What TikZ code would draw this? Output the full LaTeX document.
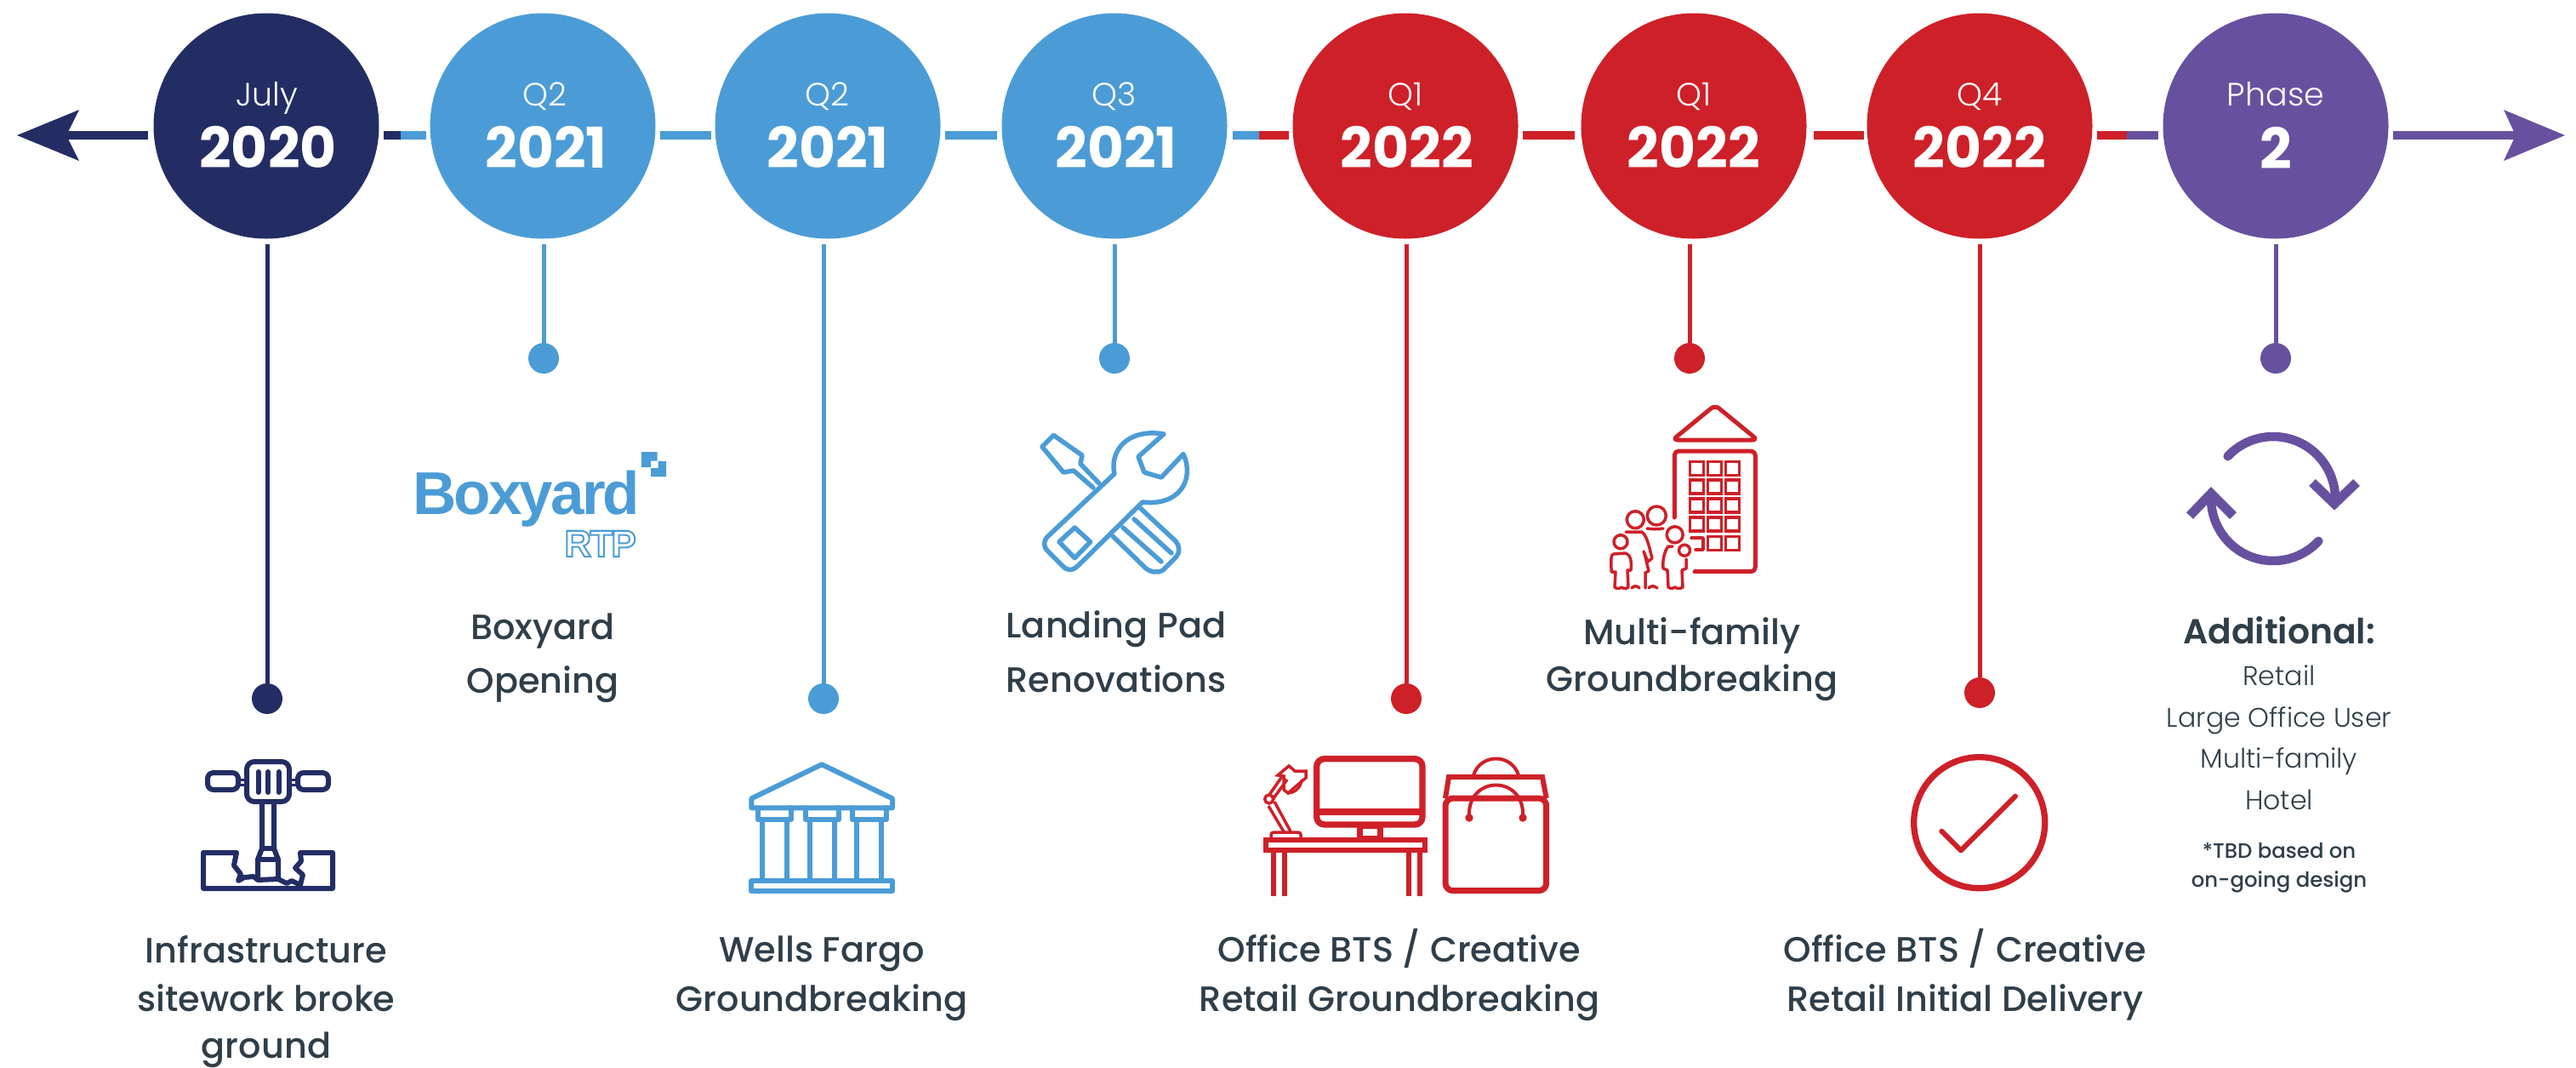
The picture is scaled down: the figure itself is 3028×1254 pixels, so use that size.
\documentclass[tikz,border=0pt]{standalone}
\usepackage{fontspec}
\setmainfont{Poppins}
\newfontfamily\plight{Poppins Light}
\newfontfamily\pmed{Poppins Medium}
\newfontfamily\psemi{Poppins SemiBold}
\newfontfamily\pbold{Poppins Bold}
\newfontfamily\logofont[LetterSpace=-4]{Liberation Sans Bold}
\definecolor{navy}{HTML}{232D64}
\definecolor{skyb}{HTML}{4B9CD6}
\definecolor{redd}{HTML}{CE2028}
\definecolor{purp}{HTML}{67519F}
\definecolor{ink}{HTML}{2F3E48}
\tikzset{
  disc/.style={circle,fill=#1,minimum size=265pt,inner sep=0pt,outer sep=6pt},
  dotend/.style={circle,fill=#1,minimum size=36pt,inner sep=0pt,outer sep=0pt},
  stem/.style={draw=#1,line width=5pt},
  seg/.style={draw=#1,line width=10pt},
  small/.style={text=white,anchor=base,inner sep=0pt,font=\plight\fontsize{38}{38}\selectfont},
  year/.style={text=white,anchor=base,inner sep=0pt,font=\pbold\fontsize{66}{66}\selectfont},
  lab/.style={text=ink,anchor=base,inner sep=0pt,font=\pmed\fontsize{41.4}{41.4}\selectfont},
  lst/.style={text=ink,anchor=base,inner sep=0pt,font=\plight\fontsize{31.6}{31.6}\selectfont},
  icon/.style={draw=#1,line width=6pt,line join=round,line cap=round},
  thin/.style={draw=#1,line width=3.5pt,line join=round,line cap=round},
}
\begin{document}
\begin{tikzpicture}[x=1pt,y=-1pt]
\useasboundingbox (0,0) rectangle (3028,1254);
% timeline discs
\node[disc=navy] (c1) at (313,148) {};
\node[disc=skyb] (c2) at (638,148) {};
\node[disc=skyb] (c3) at (973,148) {};
\node[disc=skyb] (c4) at (1310,148) {};
\node[disc=redd] (c5) at (1652,148) {};
\node[disc=redd] (c6) at (1991,148) {};
\node[disc=redd] (c7) at (2327,148) {};
\node[disc=purp] (c8) at (2675,148) {};
% disc texts
\node[small] (t1) at (314,124) {July};
\node[year] (y1) at (315,197) {2020};
\node[small] (t2) at (640,124) {Q2};
\node[year] (y2) at (642,197) {2021};
\node[small] (t3) at (972,124) {Q2};
\node[year] (y3) at (973,197) {2021};
\node[small] (t4) at (1310,124) {Q3};
\node[year] (y4) at (1312,197) {2021};
\node[small] (t5) at (1652,124) {Q1};
\node[year] (y5) at (1654,197) {2022};
\node[small] (t6) at (1991,124) {Q1};
\node[year] (y6) at (1991,197) {2022};
\node[small] (t7) at (2327,124) {Q4};
\node[year] (y7) at (2327,197) {2022};
\node[small] (t8) at (2675,124) {Phase};
\node[year] (y8) at (2675,198) {2};
% timeline segments
\coordinate (lt) at (174,159);
\coordinate (ltip) at (70,159);
\coordinate (a12) at (451,159); \coordinate (m12) at (471,159); \coordinate (b12) at (501,159);
\coordinate (a23) at (776,159); \coordinate (b23) at (836,159);
\coordinate (a34) at (1111,159); \coordinate (b34) at (1172,159);
\coordinate (a45) at (1449,159); \coordinate (m45) at (1480,159); \coordinate (b45) at (1515,159);
\coordinate (a56) at (1790,159); \coordinate (b56) at (1851,159);
\coordinate (a67) at (2132,159); \coordinate (b67) at (2191,159);
\coordinate (a78) at (2465,159); \coordinate (m78) at (2500,159); \coordinate (b78) at (2537,159);
\coordinate (rt) at (2813,159);
\coordinate (rtip) at (2970,159);
\draw[seg=navy] (lt) -- (ltip);
\fill[navy] (20,159) -- (93,129) -- (78,159) -- (93,189) -- cycle;
\draw[seg=navy] (a12) -- (m12);
\draw[seg=skyb] (m12) -- (b12);
\draw[seg=skyb] (a23) -- (b23);
\draw[seg=skyb] (a34) -- (b34);
\draw[seg=skyb] (a45) -- (m45);
\draw[seg=redd] (m45) -- (b45);
\draw[seg=redd] (a56) -- (b56);
\draw[seg=redd] (a67) -- (b67);
\draw[seg=redd] (a78) -- (m78);
\draw[seg=purp] (m78) -- (b78);
\draw[seg=purp] (rt) -- (rtip);
\fill[purp] (3015,159) -- (2943,129) -- (2957,159) -- (2943,189) -- cycle;
% stems and dots
\node[dotend=navy] (d1) at (314,821) {};
\node[dotend=skyb] (d2) at (639,421) {};
\node[dotend=skyb] (d3) at (968,821) {};
\node[dotend=skyb] (d4) at (1310,421) {};
\node[dotend=redd] (d5) at (1653,821) {};
\node[dotend=redd] (d6) at (1986,421) {};
\node[dotend=redd] (d7) at (2327,814) {};
\node[dotend=purp] (d8) at (2675,421) {};
\coordinate (s1) at (314,287); \coordinate (s2) at (639,287); \coordinate (s3) at (968,287);
\coordinate (s4) at (1310,287); \coordinate (s5) at (1653,287); \coordinate (s6) at (1986,287);
\coordinate (s7) at (2327,287); \coordinate (s8) at (2675,287);
\draw[stem=navy] (s1) -- (d1);
\draw[stem=skyb] (s2) -- (d2);
\draw[stem=skyb] (s3) -- (d3);
\draw[stem=skyb] (s4) -- (d4);
\draw[stem=redd] (s5) -- (d5);
\draw[stem=redd] (s6) -- (d6);
\draw[stem=redd] (s7) -- (d7);
\draw[stem=purp] (s8) -- (d8);
% labels
\node[lab] (l1a) at (313,1131) {Infrastructure};
\node[lab] (l1b) at (313,1188) {sitework broke};
\node[lab] (l1c) at (313,1243) {ground};
\node[lab] (l2a) at (638,751) {Boxyard};
\node[lab] (l2b) at (638,814) {Opening};
\node[lab] (l3a) at (966,1130) {Wells Fargo};
\node[lab] (l3b) at (966,1188) {Groundbreaking};
\node[lab] (l4a) at (1312,749) {Landing Pad};
\node[lab] (l4b) at (1312,813) {Renovations};
\node[lab] (l5a) at (1645,1130) {Office BTS / Creative};
\node[lab] (l5b) at (1645,1188) {Retail Groundbreaking};
\node[lab] (l6a) at (1989,757) {Multi-family};
\node[lab] (l6b) at (1989,812) {Groundbreaking};
\node[lab] (l7a) at (2310,1130) {Office BTS / Creative};
\node[lab] (l7b) at (2310,1188) {Retail Initial Delivery};
\node[lab,font=\psemi\fontsize{40.8}{40.8}\selectfont] (l8a) at (2679,756) {Additional:};
\node[lst] (l8b) at (2679,805) {Retail};
\node[lst] (l8c) at (2679,854) {Large Office User};
\node[lst] (l8d) at (2679,902) {Multi-family};
\node[lst] (l8e) at (2679,951) {Hotel};
\node[lab,font=\pmed\fontsize{24.4}{24.4}\selectfont] (l8f) at (2679,1008) {*TBD based on};
\node[lab,font=\pmed\fontsize{24.4}{24.4}\selectfont] (l8g) at (2679,1042) {on-going design};
% jackhammer
\begin{scope}[icon=navy]
\draw[rounded corners=9pt] (290,895) rectangle (340,942);
\draw (303.5,907) -- (303.5,931) (315,907) -- (315,931) (327.5,907) -- (327.5,931);
\draw[rounded corners=7pt] (244,908) rectangle (280,928);
\draw[rounded corners=7pt] (350,908) rectangle (386,928);
\draw[line width=3pt] (280,916) -- (290,916) (280,922) -- (290,922) (340,916) -- (350,916) (340,922) -- (350,922);
\draw (308,945) -- (308,997) -- (303,1010) -- (303,1032);
\draw (322,945) -- (322,997) -- (327,1010) -- (327,1032);
\draw (308,997) -- (322,997) (303,1010) -- (327,1010);
\draw (278,1002) -- (239,1002) -- (239,1044) -- (391,1044) -- (391,1002) -- (353,1002) -- (354,1012) -- (347,1020) -- (356,1028) -- (353,1040) -- (343,1035) -- (337,1038) -- (327,1033) -- (303,1034) -- (298,1030) -- (287,1031) -- (280,1035) -- (283,1027) -- (275,1017) -- (278,1002);
\end{scope}
% boxyard logo
\node[text=skyb,anchor=base west,inner sep=0pt,font=\logofont\fontsize{71}{71}\selectfont] (logo) at (485,604) {Boxyard};
\node[anchor=base east,inner sep=0pt,font=\logofont\fontsize{44}{44}\selectfont] (rtp) at (748,654) {\special{pdf:code q 1 Tr 2 w 0.294 0.612 0.839 RG 1 1 1 rg}RTP\special{pdf:code Q}};
\fill[skyb] (754,531) -- (772.7,531) -- (772.7,541.5) -- (765,541.5) -- (765,549) -- (754,549) -- cycle;
\fill[skyb] (773.5,542) -- (783,542) -- (783,560) -- (765,560) -- (765,550) -- (773.5,550) -- cycle;
% bank
\begin{scope}[icon=skyb]
\draw (966,898.3) -- (883.3,938.3) -- (883.3,949.3) -- (1049,949.3) -- (1049,938.3) -- cycle;
\draw (890.7,949.3) -- (890.7,963) -- (930,963) -- (930,949.3);
\draw (946.7,949.3) -- (946.7,963) -- (986,963) -- (986,949.3);
\draw (1002.3,949.3) -- (1002.3,963) -- (1041.7,963) -- (1041.7,949.3);
\draw (896,963) -- (896,1035) (924.7,963) -- (924.7,1035);
\draw (951.7,963) -- (951.7,1035) (980.7,963) -- (980.7,1035);
\draw (1007.3,963) -- (1007.3,1035) (1036,963) -- (1036,1035);
\draw (883.3,1035) rectangle (1049,1047);
\end{scope}
% tools
\begin{scope}[icon=skyb,line width=5.5pt]
\draw (1285,573) -- (1262,553) -- (1250,555) -- (1225,525) -- (1238.5,511.5) -- (1272,535) -- (1270,545) -- (1292,568);
\draw (1310,556.7) .. controls (1304,530) and (1325,503) .. (1368,510) -- (1338,536.7) -- (1345,555) -- (1365,561) -- (1391,533.5) .. controls (1405,565) and (1385,595) .. (1343,590) -- (1268,664) .. controls (1260,672) and (1254,670) .. (1250,666) -- (1232,648) .. controls (1226,642) and (1226,636) .. (1232,630) -- cycle;
\draw (1263.3,620) -- (1281.7,636.7) -- (1263.3,655.7) -- (1245,636.7) -- cycle;
\draw (1340,596.7) -- (1382,636) .. controls (1387,642) and (1387,650) .. (1382,655) -- (1367,670) .. controls (1360,674) and (1352,672) .. (1347,668) -- (1308,630);
\draw (1333,610) -- (1377,650) (1320,620) -- (1365,660);
\end{scope}
% office icon
\begin{scope}[icon=redd,line cap=butt,line join=miter]
\draw[line width=7.3pt,rounded corners=9pt] (1547.7,891.7) rectangle (1672,969);
\draw[line width=8pt] (1547.7,954) -- (1672,954);
\draw[line width=7pt] (1598,970) -- (1598,985) -- (1622,985) -- (1622,970) -- (1598,970);
\draw (1487.7,987) rectangle (1675.3,999.3);
\draw (1497,1000) -- (1497,1053) (1510,1000) -- (1510,1053) (1656,1000) -- (1656,1053) (1669,1000) -- (1669,1053);
\draw[line width=3.5pt,rounded corners=3pt] (1494,985) -- (1494,978) -- (1529,978) -- (1529,985);
\draw[line width=3.5pt] (1491,947) -- (1510,979) (1498,942) -- (1517,977);
\draw[line width=3.5pt] (1491.7,939) circle [radius=5];
\draw[line width=3.5pt] (1492,934) -- (1508,911) (1497,938) -- (1513,916);
\draw[line width=3.5pt] (1502,911) -- (1515,900) -- (1522,906) -- (1535,906) -- (1535,914) -- (1514,932) -- (1509,928) -- (1509,912) -- cycle;
\draw[line width=3pt] (1514,932) .. controls (1522,932) and (1530,925) .. (1530,916);
\draw[line width=7pt,rounded corners=9pt] (1699,938) -- (1699,1046.7) -- (1817.7,1046.7) -- (1817.7,938) -- cycle;
\draw (1699,938) -- (1703,913) -- (1813,913) -- (1817.7,938);
\draw[line width=4pt] (1732,911) .. controls (1740,885) and (1777,885) .. (1785,911);
\draw[line width=4pt] (1727,960) .. controls (1724,910) and (1793,910) .. (1790,960);
\end{scope}
\fill[redd] (1727,961) circle [radius=4.7] (1790,961) circle [radius=4.7];
% multi-family icon
\begin{scope}[thin=redd]
\draw[line width=5pt,rounded corners=6pt] (2016,476) -- (1966,517) -- (2066,517) -- cycle;
\draw[line width=5pt,rounded corners=5pt] (1968.3,608) -- (1968.3,530) -- (2063.3,530) -- (2063.3,671.7) -- (1992,671.7);
\foreach \x in {1994.5,2015.5,2036.7}{\foreach \y in {550.3,572,594,616}{
  \draw[line cap=butt,line join=miter] (\x-8,\y-8) rectangle (\x+8,\y+8);}}
\foreach \x in {2015.5,2036.7}{
  \draw[line cap=butt,line join=miter] (\x-8,630.7) rectangle (\x+8,646.7);}
\draw (1988,632) -- (2002,632) -- (2002,646) -- (1993,646);
\draw (1922.3,610.7) circle [radius=10];
\draw (1947.3,606) circle [radius=11];
\draw (1968.7,628.3) circle [radius=9.5];
\draw (1905,636.7) circle [radius=8];
\draw (1980,646.7) circle [radius=6.5];
\draw (1897,651) .. controls (1893,652) and (1894,655) .. (1894,672) -- (1899,672) -- (1898,690) .. controls (1900,692) and (1904,692) .. (1906,690) .. controls (1908,692) and (1912,692) .. (1914,690) -- (1913,670) -- (1917,670) .. controls (1918,660) and (1917,652) .. (1911,650) -- cycle;
\draw (1911,625) -- (1930,625) .. controls (1937,630) and (1940,650) .. (1942,656) -- (1937,660) -- (1932,648);
\draw (1933,650) -- (1938,671) -- (1934,673) -- (1934,691) (1918,691) .. controls (1921,688) and (1924,688) .. (1927,691) (1938,691) .. controls (1941,688) and (1944,688) .. (1948,691);
\draw (1936,621) .. controls (1942,622) and (1948,622) .. (1955,621);
\draw (1966,642) -- (1961,642) .. controls (1956,648) and (1954,660) .. (1955,668) -- (1960,670) -- (1961,690) .. controls (1964,692) and (1967,692) .. (1969,690) .. controls (1971,692) and (1975,692) .. (1978,690) -- (1977,670) -- (1982,668) -- (1982,657);
\end{scope}
% check icon
\draw[icon=redd,line width=7.3pt] (2326.7,966.7) circle [radius=77];
\draw[icon=redd] (2282.3,976.7) -- (2305,999.3) -- (2369,935.7);
% cycle icon
\draw[draw=purp,line width=10.5pt,line cap=round] plot[domain=223:360,samples=40] ({2672+73*cos(\x)},{586+73*sin(\x)});
\draw[draw=purp,line width=10.5pt,line cap=round] plot[domain=43:180,samples=40] ({2672+73*cos(\x)},{586+73*sin(\x)});
\draw[draw=purp,line width=11pt,miter limit=4] (2718,567) -- (2744,592) -- (2770,567);
\draw[draw=purp,line width=11pt,miter limit=4] (2574,606) -- (2599,580) -- (2625,606);
\end{tikzpicture}
\end{document}
